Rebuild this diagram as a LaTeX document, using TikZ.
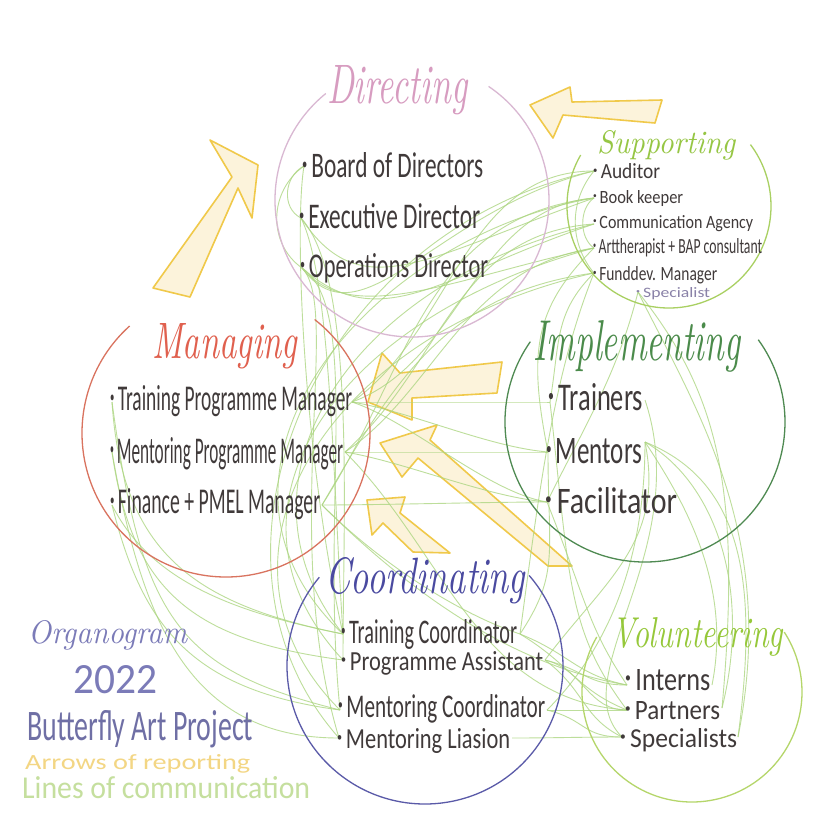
\documentclass[tikz,border=0pt]{standalone}
\usepackage{fontspec}
\usepackage{graphicx}
\newfontfamily\hand{Carlito}
\definecolor{ink}{HTML}{403A3A}
\definecolor{commc}{HTML}{ADD682}
\definecolor{arrd}{HTML}{F0C94A}
\definecolor{arrf}{HTML}{FCF0D2}
\definecolor{dirc}{HTML}{D9B8D2}
\definecolor{dirt}{HTML}{D79CC0}
\definecolor{supc}{HTML}{A9D062}
\definecolor{supt}{HTML}{96C644}
\definecolor{manc}{HTML}{D9735F}
\definecolor{mant}{HTML}{E0604E}
\definecolor{impc}{HTML}{4F8A52}
\definecolor{impt}{HTML}{4B8B4B}
\definecolor{cooc}{HTML}{5A5AA8}
\definecolor{coot}{HTML}{4A4AA0}
\definecolor{volc}{HTML}{B5D66A}
\definecolor{volt}{HTML}{96C83A}
\definecolor{legb}{HTML}{7B7BB8}
\definecolor{legy}{HTML}{F3D684}
\definecolor{legg}{HTML}{C5DF9E}
\definecolor{specc}{HTML}{8A82A8}
\newcommand{\fitt}[3]{\resizebox{#1pt}{#2pt}{#3}}
\newcommand{\bul}{\raisebox{0.22em}{\scalebox{0.45}{•}}\,}
\newcommand{\harc}[5]{\draw[#1] (#2) ++(-#4:#3) arc[start angle=-#4, end angle=-#5, radius=#3];}
\newcommand{\cl}[4]{\draw[comm] (#1) .. controls +(#3) and +(#4) .. (#2);}
\begin{document}
\begin{tikzpicture}[x=1pt,y=-1pt,
  txt/.style={anchor=base west, inner sep=0pt, text=ink, font=\hand},
  ttl/.style={anchor=base west, inner sep=0pt, font=\rmfamily\itshape},
  comm/.style={draw=commc, line width=0.9pt, opacity=0.8},
  bigarrow/.style={draw=arrd, fill=arrf, fill opacity=0.8, line width=1.6pt, line join=round},
  ring/.style={line width=1.3pt}]
\useasboundingbox (0,0) rectangle (820,820);
\fill[white] (0,0) rectangle (820,820);

% ---------- reporting arrows ----------
\draw[bigarrow] (530,105) -- (570,87) -- (572,102) -- (662,100) -- (655,123) -- (563,115) -- (553,138) -- cycle;
\draw[bigarrow] (153,288) -- (232,177) -- (210,140) -- (258,165) -- (252,218) -- (238,188) -- (190,297) -- cycle;
\draw[bigarrow] (368,402) -- (382,353) -- (400,373) -- (502,362) -- (497,393) -- (412,398) -- (412,420) -- cycle;
\draw[bigarrow] (380,443) -- (437,425) -- (430,440) -- (572,566) -- (548,566) -- (418,458) -- (402,477) -- cycle;
\draw[bigarrow] (367,500) -- (405,497) -- (400,513) -- (450,553) -- (413,552) -- (383,523) -- (372,535) -- cycle;

% ---------- anchor coordinates ----------
\coordinate (dB) at (304,166); \coordinate (dE) at (301,218); \coordinate (dO) at (302,268);
\coordinate (sA) at (594,171); \coordinate (sB) at (594,198); \coordinate (sC) at (594,224);
\coordinate (sD) at (594,248); \coordinate (sF) at (594,273); \coordinate (sS) at (638,292);
\coordinate (mT) at (112,402); \coordinate (mM) at (112,452); \coordinate (mF) at (112,505);
\coordinate (mTr) at (352,402); \coordinate (mMr) at (345,452); \coordinate (mFr) at (322,505);
\coordinate (iT) at (550,402); \coordinate (iM) at (548,452); \coordinate (iF) at (547,502);
\coordinate (iTr) at (645,400); \coordinate (iMr) at (645,442);
\coordinate (cT) at (343,634); \coordinate (cP) at (343,660); \coordinate (cMC) at (340,710); \coordinate (cML) at (339,738);
\coordinate (cTr) at (520,634); \coordinate (cPr) at (545,660); \coordinate (cMCr) at (547,710); \coordinate (cMLr) at (512,738);
\coordinate (vI) at (627,685); \coordinate (vP) at (627,710); \coordinate (vS) at (622,737);
\coordinate (vIr) at (712,685); \coordinate (vPr) at (722,708); \coordinate (vSr) at (738,737);

% ---------- lines of communication ----------
\cl{sA}{mTr}{-130,0}{100,-70}
\cl{sB}{mTr}{-120,10}{110,-40}
\cl{sC}{mMr}{-140,10}{100,-90}
\cl{sD}{mMr}{-130,20}{90,-60}
\cl{sF}{mFr}{-150,20}{70,-120}
\cl{sA}{dO}{-160,40}{60,80}
\cl{sB}{dE}{-170,60}{60,90}
\cl{sD}{dO}{-140,30}{50,60}
\cl{sC}{dO}{-150,50}{80,70}
\cl{sB}{mFr}{-170,20}{90,-140}
\cl{sC}{cT}{-250,60}{-120,-150}
\cl{sD}{cP}{-260,70}{-140,-150}
\cl{sF}{cMC}{-270,60}{-150,-150}
\cl{sA}{cML}{-280,60}{-160,-180}
\cl{sB}{cT}{-230,40}{-170,-160}
\cl{sA}{sF}{-25,30}{-25,-30}
\cl{sB}{sD}{-15,10}{-15,-10}
\cl{sF}{iT}{-40,40}{10,-60}
\cl{sS}{iF}{-20,80}{40,-80}
\cl{sS}{vSr}{60,120}{40,-200}
\cl{sS}{vPr}{80,100}{20,-220}
\cl{sD}{iM}{-60,60}{-20,-100}
\cl{sF}{cTr}{-40,100}{20,-150}
\cl{dB}{dE}{-20,10}{-20,-10}
\cl{dB}{dO}{-35,25}{-35,-25}
\cl{dE}{cT}{30,60}{-10,-150}
\cl{dE}{cP}{55,60}{0,-150}
\cl{dO}{cMC}{60,40}{-20,-200}
\cl{dO}{cML}{40,40}{-60,-200}
\cl{dB}{cT}{-10,60}{-40,-180}
\cl{mT}{cT}{10,150}{-150,-30}
\cl{mM}{cP}{20,140}{-150,-20}
\cl{mF}{cMC}{30,120}{-150,-20}
\cl{mF}{cT}{40,80}{-100,-20}
\cl{mM}{cML}{30,170}{-150,0}
\cl{mT}{cMC}{30,220}{-160,-40}
\cl{mTr}{iT}{60,0}{-60,0}
\cl{mMr}{iM}{60,0}{-60,0}
\cl{mFr}{iF}{60,0}{-60,0}
\cl{mTr}{iF}{60,20}{-60,-10}
\cl{mMr}{iF}{60,10}{-60,-5}
\cl{mTr}{iM}{60,10}{-60,-5}
\cl{mFr}{vI}{80,80}{-120,-20}
\cl{mMr}{vP}{100,100}{-150,-10}
\cl{mFr}{cTr}{60,60}{-60,-20}
\cl{iMr}{vIr}{40,60}{20,-100}
\cl{iMr}{vPr}{70,40}{30,-120}
\cl{iMr}{vSr}{100,40}{20,-150}
\cl{iMr}{cPr}{20,100}{60,-80}
\cl{iMr}{cMCr}{0,120}{60,-60}
\cl{iM}{cTr}{0,100}{40,-60}
\cl{iF}{vI}{40,100}{-40,-60}
\cl{iT}{vP}{20,180}{-60,-80}
\cl{iTr}{vS}{50,150}{-60,-60}
\cl{cTr}{vI}{50,20}{-50,-10}
\cl{cPr}{vI}{40,10}{-40,0}
\cl{cPr}{vP}{40,10}{-40,0}
\cl{cMCr}{vP}{40,0}{-40,0}
\cl{cMCr}{vS}{40,10}{-40,0}
\cl{cMLr}{vS}{40,0}{-40,0}
\cl{cTr}{vP}{50,30}{-50,-20}
\cl{cPr}{vS}{40,30}{-40,-20}

% ---------- circles ----------
\coordinate (cD) at (412,200); \coordinate (cS) at (669,206); \coordinate (cM) at (226,433);
\coordinate (cI) at (645,422); \coordinate (cC) at (425,666); \coordinate (cV) at (692,692);
\harc{ring,dirc}{cD}{137}{129}{416}
\harc{ring,supc}{cS}{102}{150}{397}
\harc{ring,manc}{cM}{144}{132}{412}
\harc{ring,impc}{cI}{140}{145}{396}
\harc{ring,cooc}{cC}{138}{140}{401}
\harc{ring,volc}{cV}{110}{150}{393}

% ---------- Directing ----------
\node[ttl, text=dirt] (dt) at (327,103) {\fitt{140}{38}{Directing}};
\node[txt] (d1) at (302,177) {\fitt{181}{25}{\bul Board of Directors}};
\node[txt] (d2) at (299,228) {\fitt{181}{25}{\bul Executive Director}};
\node[txt] (d3) at (300,277) {\fitt{188}{24}{\bul Operations Director}};
% ---------- Supporting ----------
\node[ttl, text=supt] (st) at (597,153) {\fitt{138}{23}{Supporting}};
\node[txt] (s1) at (593,178) {\fitt{67}{15}{\bul Auditor}};
\node[txt] (s2) at (593,203) {\fitt{90}{13}{\bul Book keeper}};
\node[txt] (s3) at (593,228) {\fitt{160}{13}{\bul Communication Agency}};
\node[txt] (s4) at (593,253) {\fitt{169}{15}{\bul Arttherapist + BAP consultant}};
\node[txt] (s5) at (593,280) {\fitt{124}{14}{\bul Funddev. Manager}};
\node[txt, text=specc] (s6) at (636,297) {\fitt{74}{10}{\bul Specialist}};
% ---------- Managing ----------
\node[ttl, text=mant] (mt) at (152,358) {\fitt{145}{35}{Managing}};
\node[txt] (m1) at (110,410) {\fitt{242}{25}{\bul Training Programme Manager}};
\node[txt] (m2) at (110,463) {\fitt{233}{26}{\bul Mentoring Programme Manager}};
\node[txt] (m3) at (110,513) {\fitt{210}{25}{\bul Finance + PMEL Manager}};
% ---------- Implementing ----------
\node[ttl, text=impt] (it) at (533,360) {\fitt{207}{40}{Implementing}};
\node[txt] (i1) at (548,410) {\fitt{95}{27}{\bul Trainers}};
\node[txt] (i2) at (546,463) {\fitt{96}{25}{\bul Mentors}};
\node[txt] (i3) at (545,513) {\fitt{132}{26}{\bul Facilitator}};
% ---------- Coordinating ----------
\node[ttl, text=coot] (ct) at (325,593) {\fitt{200}{36}{Coordinating}};
\node[txt] (c1) at (341,643) {\fitt{176}{24}{\bul Training Coordinator}};
\node[txt] (c2) at (341,670) {\fitt{202}{19}{\bul Programme Assistant}};
\node[txt] (c3) at (338,717) {\fitt{207}{23}{\bul Mentoring Coordinator}};
\node[txt] (c4) at (337,748) {\fitt{173}{20}{\bul Mentoring Liasion}};
% ---------- Volunteering ----------
\node[ttl, text=volt] (vt) at (612,647) {\fitt{171}{30}{Volunteering}};
\node[txt] (v1) at (625,690) {\fitt{85}{21}{\bul Interns}};
\node[txt] (v2) at (625,719) {\fitt{95}{18}{\bul Partners}};
\node[txt] (v3) at (620,747) {\fitt{117}{19}{\bul Specialists}};
% ---------- legend ----------
\node[ttl, text=legb] (l1) at (28,643) {\fitt{159}{23}{Organogram}};
\node[txt, text=legb] (l2) at (73,693) {\fitt{84}{28}{2022}};
\node[txt, text=legb!90!black] (l3) at (27,740) {\fitt{226}{30}{Butterfly Art Project}};
\node[txt, text=legy] (l4) at (25,769) {\fitt{225}{15}{Arrows of reporting}};
\node[txt, text=legg] (l5) at (22,798) {\fitt{288}{22}{Lines of communication}};
\end{tikzpicture}
\end{document}
